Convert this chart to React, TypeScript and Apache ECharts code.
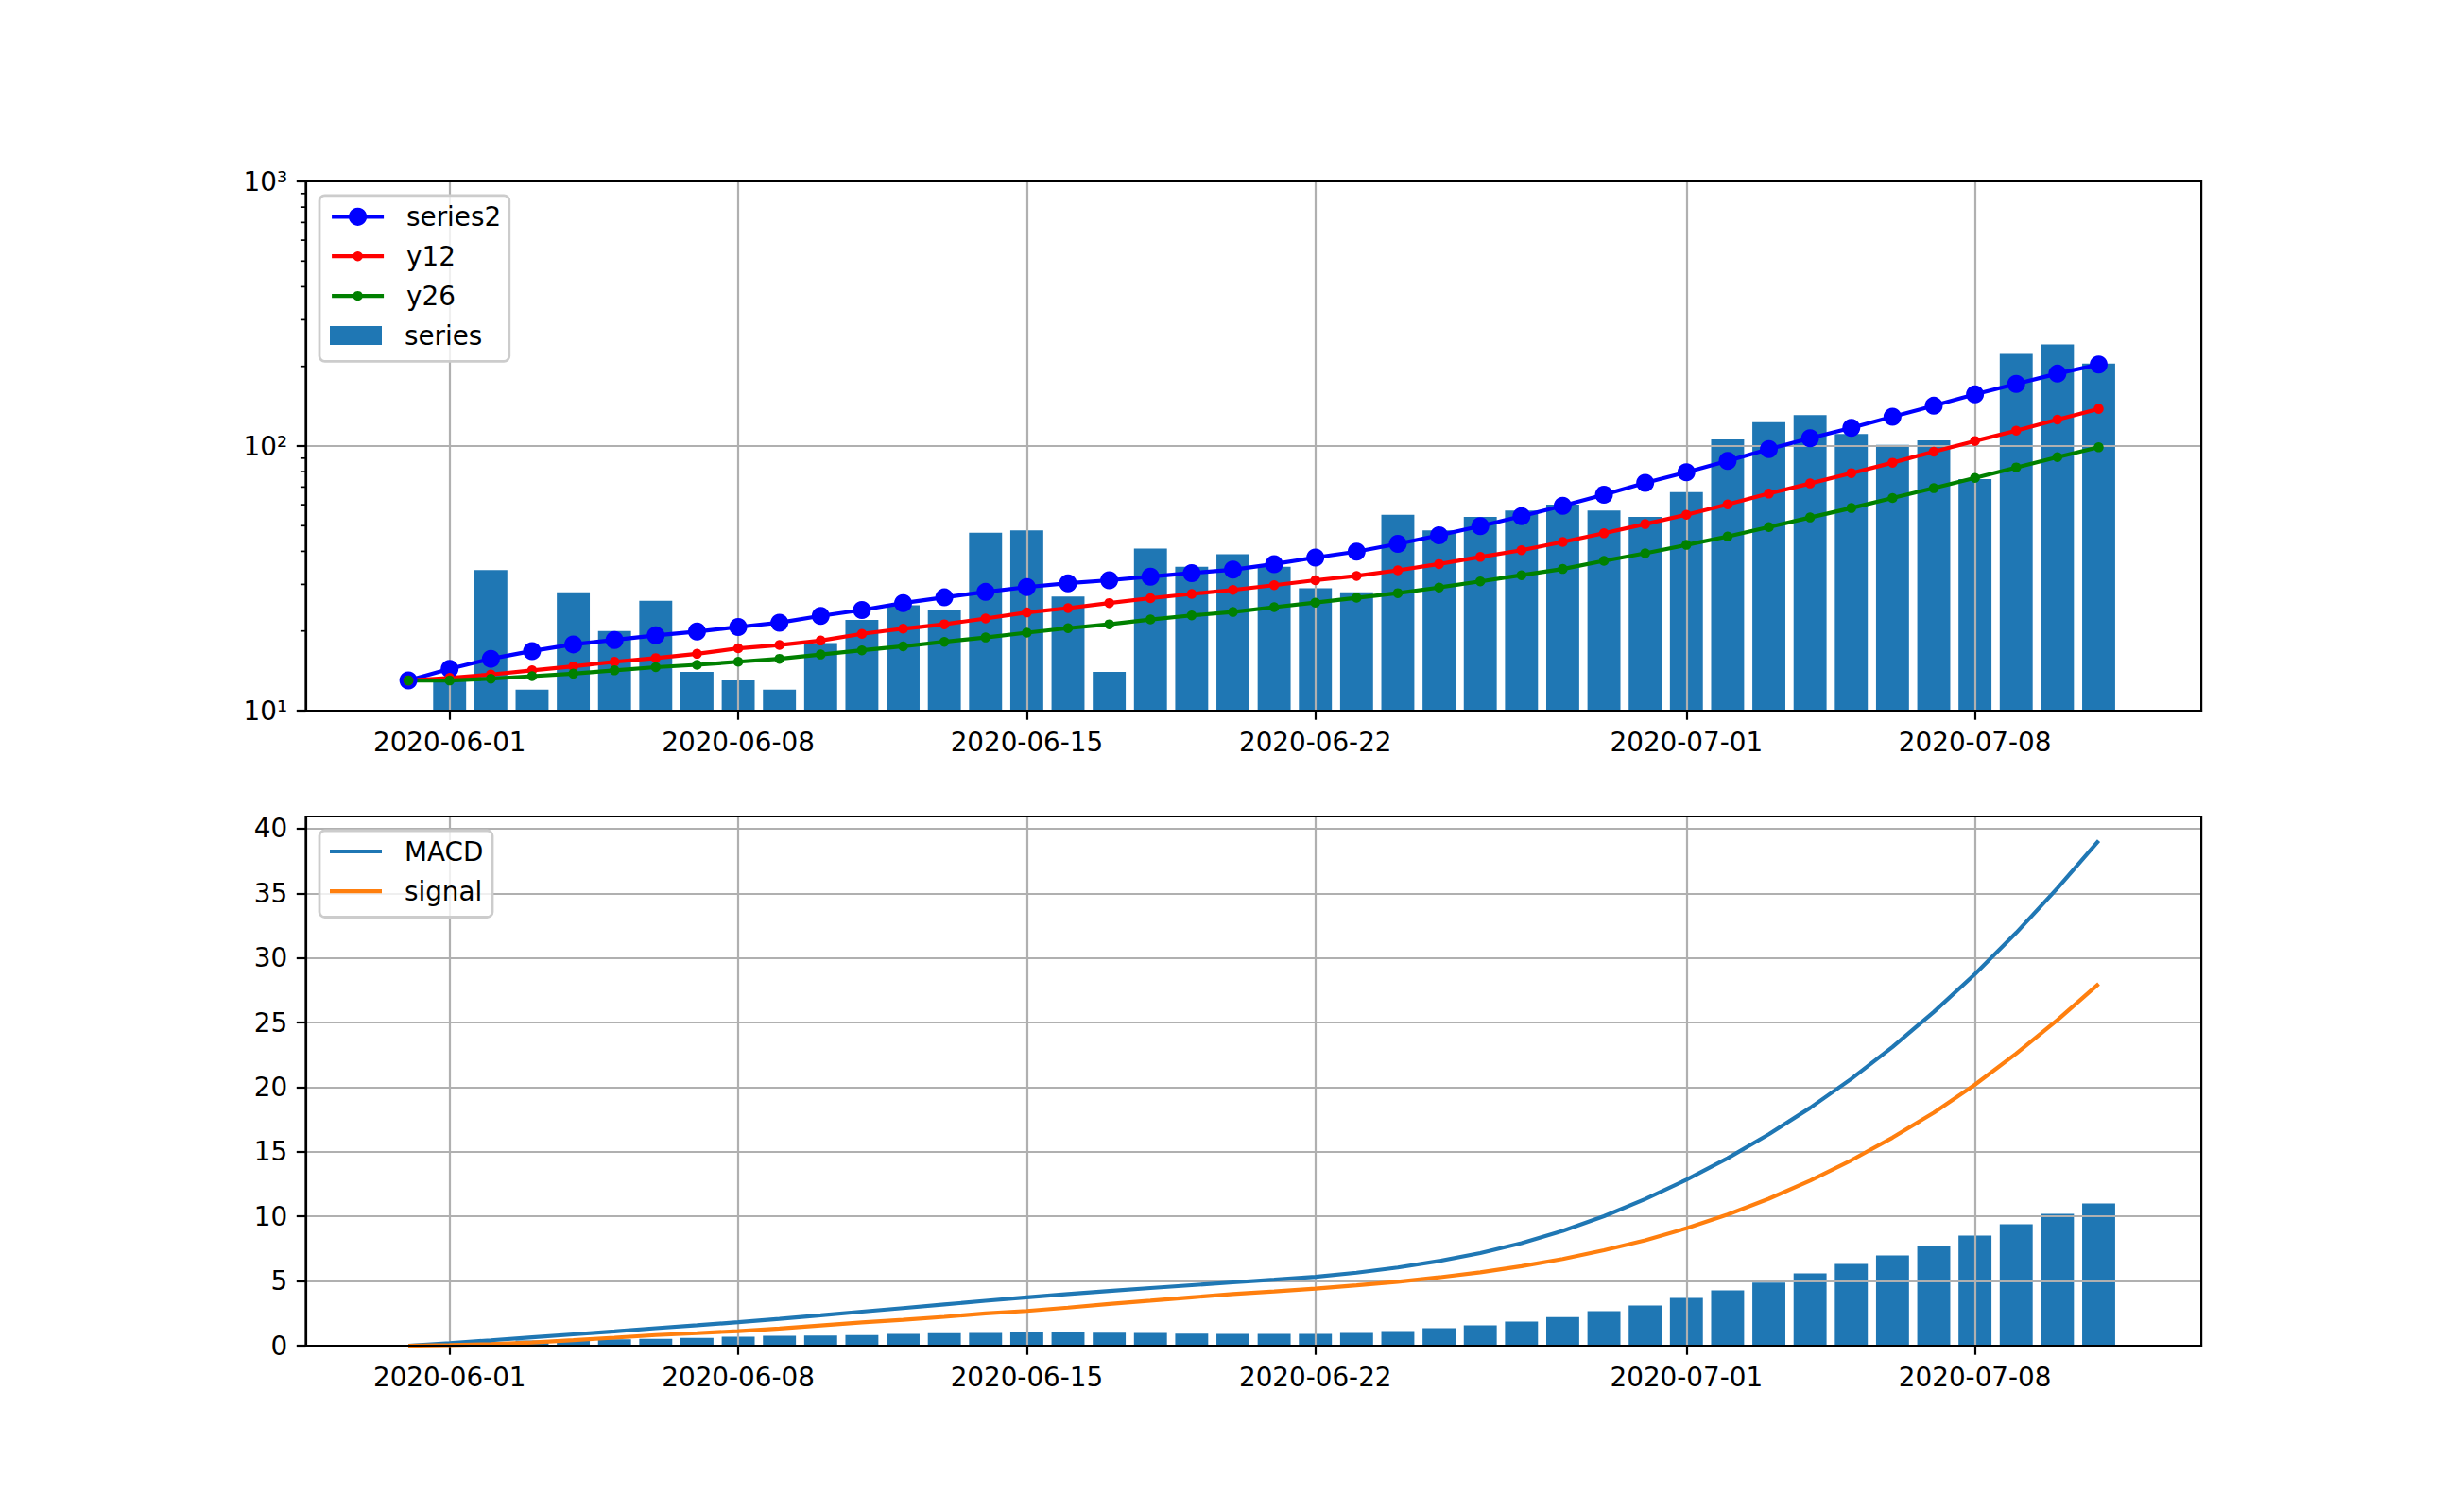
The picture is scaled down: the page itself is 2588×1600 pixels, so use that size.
import React, { useEffect, useRef } from 'react';
import * as echarts from 'echarts';

// ---------- data ----------
const dates = [
  '2020-05-31',
  '2020-06-01', '2020-06-02', '2020-06-03', '2020-06-04', '2020-06-05', '2020-06-06', '2020-06-07',
  '2020-06-08', '2020-06-09', '2020-06-10', '2020-06-11', '2020-06-12', '2020-06-13', '2020-06-14',
  '2020-06-15', '2020-06-16', '2020-06-17', '2020-06-18', '2020-06-19', '2020-06-20', '2020-06-21',
  '2020-06-22', '2020-06-23', '2020-06-24', '2020-06-25', '2020-06-26', '2020-06-27', '2020-06-28',
  '2020-06-29', '2020-06-30', '2020-07-01', '2020-07-02', '2020-07-03', '2020-07-04', '2020-07-05',
  '2020-07-06', '2020-07-07', '2020-07-08', '2020-07-09', '2020-07-10', '2020-07-11',
];

const tickDates = ['2020-06-01', '2020-06-08', '2020-06-15', '2020-06-22', '2020-07-01', '2020-07-08'];

const seriesBars = [
  null, 13, 34, 12, 28, 20, 26, 14, 13, 12, 18, 22, 25, 24, 47, 48, 27, 14, 41, 35, 39,
  35, 29, 28, 55, 48, 54, 57, 60, 57, 54, 67, 106, 123, 131, 111, 101, 105, 75, 223, 242, 205,
];

const series2 = [
  13, 14.4, 15.7, 16.8, 17.8, 18.5, 19.25, 19.9, 20.7, 21.5, 22.8, 24.0, 25.5, 26.8, 28.1, 29.3,
  30.3, 31.1, 32.1, 33.1, 34.1, 35.8, 37.9, 39.9, 42.7, 46.0, 49.8, 54.3, 59.4, 65.5, 72.6, 79.6,
  87.9, 97.3, 107.1, 117.2, 129.0, 142.0, 156.8, 171.6, 187.8, 203.4,
];

const y12 = [
  13, 13.3, 13.7, 14.2, 14.7, 15.3, 15.8, 16.4, 17.2, 17.7, 18.4, 19.5, 20.4, 21.2, 22.3, 23.5,
  24.4, 25.5, 26.6, 27.6, 28.6, 29.8, 31.1, 32.3, 33.9, 35.8, 38.1, 40.4, 43.4, 46.8, 50.7, 55.0,
  60.2, 66.1, 72.2, 79.0, 86.5, 95.2, 104.5, 114.3, 125.9, 138.2,
];

const y26 = [
  13, 13.0, 13.2, 13.5, 13.8, 14.2, 14.6, 14.9, 15.3, 15.7, 16.3, 16.9, 17.5, 18.2, 18.9, 19.7,
  20.5, 21.2, 22.1, 22.9, 23.6, 24.6, 25.6, 26.7, 27.8, 29.2, 30.8, 32.5, 34.3, 36.8, 39.3, 42.3,
  45.5, 49.4, 53.7, 58.3, 63.6, 69.3, 75.8, 83.0, 90.8, 98.9,
];

const macd = [
  0, 0.2, 0.42, 0.65, 0.88, 1.11, 1.35, 1.58, 1.82, 2.08, 2.35, 2.63, 2.91, 3.19, 3.47, 3.74,
  3.99, 4.23, 4.46, 4.68, 4.9, 5.11, 5.33, 5.65, 6.05, 6.55, 7.17, 7.94, 8.89, 10.02, 11.34, 12.84,
  14.51, 16.36, 18.4, 20.65, 23.12, 25.82, 28.76, 31.95, 35.4, 39.07,
];

const signal = [
  0, 0.04, 0.12, 0.25, 0.43, 0.62, 0.82, 0.97, 1.13, 1.32, 1.56, 1.8, 2.0, 2.23, 2.49, 2.69,
  2.94, 3.23, 3.48, 3.74, 3.99, 4.2, 4.42, 4.67, 4.95, 5.29, 5.68, 6.15, 6.71, 7.38, 8.16, 9.08,
  10.15, 11.37, 12.77, 14.35, 16.1, 18.03, 20.2, 22.6, 25.2, 28.0,
];

const hist = [
  0, 0.16, 0.3, 0.4, 0.45, 0.49, 0.53, 0.61, 0.69, 0.76, 0.79, 0.83, 0.91, 0.96, 0.98, 1.05,
  1.05, 1.0, 0.98, 0.94, 0.91, 0.91, 0.91, 0.98, 1.13, 1.35, 1.57, 1.86, 2.22, 2.66, 3.1, 3.69,
  4.27, 4.88, 5.59, 6.32, 6.98, 7.71, 8.52, 9.39, 10.2, 11.0,
];

const logMinorTicks = [20, 30, 40, 50, 60, 70, 80, 90, 200, 300, 400, 500, 600, 700, 800, 900];
const macdTicks = [0, 5, 10, 15, 20, 25, 30, 35, 40];

// ---------- style ----------
const FONT = 'DejaVu Sans';
const FS = 27.8;
const LW = 4.17;
const X_MIN = -2.49;
const X_MAX = 43.49;
const SUP: Record<number, string> = { 0: '\u2070', 1: '\u00b9', 2: '\u00b2', 3: '\u00b3' };

const pts = (arr: (number | null)[]) => arr.map((v, i) => [i, v]);

function App() {
  const ref = useRef<HTMLDivElement>(null);

  useEffect(() => {
    if (!ref.current) return;
    const chart = echarts.init(ref.current, undefined, { renderer: 'svg' });
    const tickIdx = tickDates.map((d) => dates.indexOf(d));
    const black = { color: '#000', width: 2.2 };
    const gridLine = { show: true, lineStyle: { color: '#b0b0b0', width: 2.2 } };
    const labelStyle = { color: '#000', fontFamily: FONT, fontSize: FS, margin: 19.4 };

    const xAxis = (gridIndex: number) => ({
      type: 'value',
      gridIndex,
      min: X_MIN,
      max: X_MAX,
      z: 1.5,
      axisLine: { show: true, onZero: false, lineStyle: black },
      axisTick: { show: true, customValues: tickIdx, length: 9.7, lineStyle: black },
      axisLabel: {
        ...labelStyle,
        customValues: tickIdx,
        formatter: (v: number) => dates[Math.round(v)] ?? '',
      },
      splitLine: gridLine,
    });

    const legendBase = {
      orient: 'vertical',
      left: 349,
      padding: 0,
      itemWidth: 55,
      selectedMode: false,
      z: 6,
      lineStyle: { width: LW },
      itemStyle: { borderWidth: 0 },
      textStyle: {
        fontFamily: FONT,
        fontSize: FS,
        color: '#000',
        lineHeight: 30,
        padding: [0, 0, 0, 19],
      },
    };

    const gridBase = {
      left: 323.5,
      width: 2005.6,
      height: 560,
      show: true,
      borderColor: '#000',
      borderWidth: 2.2,
      backgroundColor: 'transparent',
      z: 3,
      containLabel: false,
      outerBoundsMode: 'none',
    };

    const option = {
      animation: false,
      backgroundColor: '#fff',
      grid: [
        { ...gridBase, top: 192 },
        { ...gridBase, top: 864 },
      ],
      xAxis: [xAxis(0), xAxis(1)],
      yAxis: [
        {
          type: 'log',
          logBase: 10,
          gridIndex: 0,
          min: 10,
          max: 1000,
          z: 1.5,
          axisLine: { show: true, onZero: false, lineStyle: black },
          axisTick: { show: true, length: 9.7, lineStyle: black },
          axisLabel: {
            ...labelStyle,
            formatter: (v: number) => '10' + (SUP[Math.round(Math.log10(v))] ?? ''),
          },
          splitLine: gridLine,
        },
        {
          type: 'value',
          gridIndex: 1,
          min: 0,
          max: 40.95,
          z: 1.5,
          axisLine: { show: true, onZero: false, lineStyle: black },
          axisTick: { show: true, customValues: macdTicks, length: 9.7, lineStyle: black },
          axisLabel: { ...labelStyle, customValues: macdTicks },
          splitLine: gridLine,
        },
      ],
      legend: [
        { ...legendBase, top: 214.3, itemHeight: 24, data: ['series2'] },
        { ...legendBase, top: 256.2, itemHeight: 13, itemGap: 11.9, data: ['y12', 'y26'] },
        { ...legendBase, top: 340, itemHeight: 19.8, data: [{ name: 'series', icon: 'rect' }] },
        {
          ...legendBase,
          top: 886,
          itemHeight: 4.2,
          itemGap: 12.1,
          data: [
            { name: 'MACD', icon: 'rect' },
            { name: 'signal', icon: 'rect' },
          ],
        },
      ],
      graphic: [
        {
          type: 'rect',
          z: 5,
          shape: { x: 338, y: 206.8, width: 200.8, height: 175.5, r: 5.6 },
          style: { fill: 'rgba(255,255,255,0.8)', stroke: '#cccccc', lineWidth: 2.78 },
        },
        {
          type: 'rect',
          z: 5,
          shape: { x: 338, y: 879, width: 183, height: 91.5, r: 5.6 },
          style: { fill: 'rgba(255,255,255,0.8)', stroke: '#cccccc', lineWidth: 2.78 },
        },
      ],
      series: [
        {
          type: 'bar',
          name: 'series',
          xAxisIndex: 0,
          yAxisIndex: 0,
          data: pts(seriesBars),
          barWidth: '80%',
          itemStyle: { color: '#1f77b4' },
          z: 1,
        },
        {
          type: 'line',
          name: 'series2',
          xAxisIndex: 0,
          yAxisIndex: 0,
          data: pts(series2),
          symbol: 'circle',
          symbolSize: 19,
          lineStyle: { color: '#0000ff', width: LW },
          itemStyle: { color: '#0000ff' },
          z: 2,
        },
        {
          type: 'line',
          name: 'y12',
          xAxisIndex: 0,
          yAxisIndex: 0,
          data: pts(y12),
          symbol: 'circle',
          symbolSize: 10.5,
          lineStyle: { color: '#ff0000', width: LW },
          itemStyle: { color: '#ff0000' },
          z: 2,
        },
        {
          type: 'line',
          name: 'y26',
          xAxisIndex: 0,
          yAxisIndex: 0,
          data: pts(y26),
          symbol: 'circle',
          symbolSize: 10.5,
          lineStyle: { color: '#008000', width: LW },
          itemStyle: { color: '#008000' },
          z: 2,
        },
        {
          type: 'custom',
          xAxisIndex: 0,
          yAxisIndex: 0,
          clip: false,
          silent: true,
          z: 3,
          data: logMinorTicks.map((v) => [X_MIN, v]),
          renderItem: (params: any, api: any) => {
            const p = api.coord([api.value(0), api.value(1)]);
            return {
              type: 'line',
              shape: { x1: p[0] - 5.6, y1: p[1], x2: p[0], y2: p[1] },
              style: { stroke: '#000', lineWidth: 1.7 },
            };
          },
        },
        {
          type: 'bar',
          name: 'hist',
          xAxisIndex: 1,
          yAxisIndex: 1,
          data: pts(hist),
          barWidth: '80%',
          itemStyle: { color: '#1f77b4' },
          z: 1,
        },
        {
          type: 'line',
          name: 'MACD',
          xAxisIndex: 1,
          yAxisIndex: 1,
          data: pts(macd),
          symbol: 'none',
          lineStyle: { color: '#1f77b4', width: LW },
          itemStyle: { color: '#1f77b4' },
          z: 2,
        },
        {
          type: 'line',
          name: 'signal',
          xAxisIndex: 1,
          yAxisIndex: 1,
          data: pts(signal),
          symbol: 'none',
          lineStyle: { color: '#ff7f0e', width: LW },
          itemStyle: { color: '#ff7f0e' },
          z: 2,
        },
      ],
    };

    chart.setOption(option as any);
    return () => chart.dispose();
  }, []);

  return (
    <div
      ref={ref}
      style={{ position: 'absolute', left: 0, top: 0, width: 2588, height: 1600, background: '#fff' }}
    />
  );
}

export default App;
